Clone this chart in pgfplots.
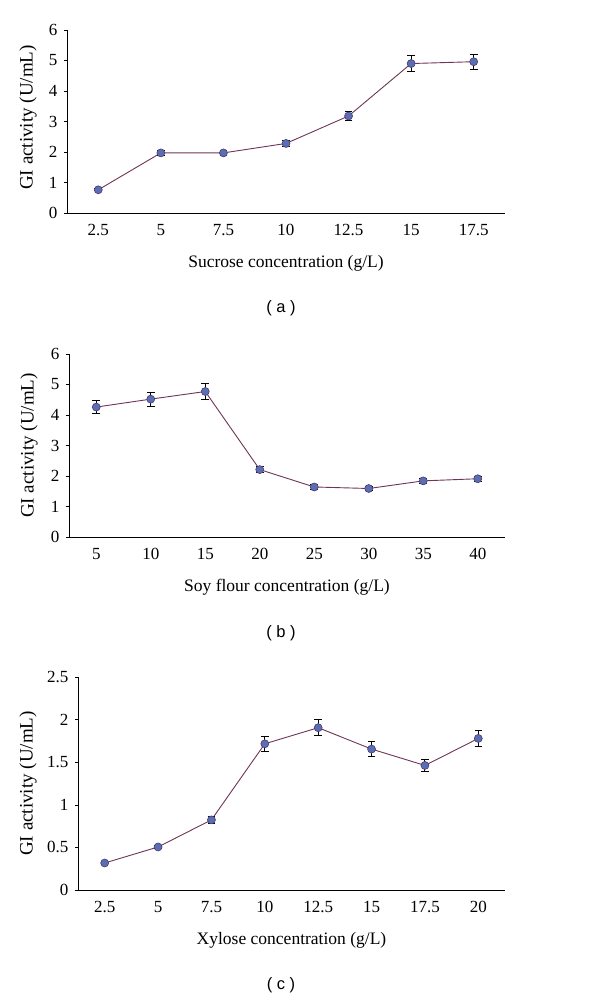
\documentclass[border=0pt]{standalone}
\usepackage{pgfplots}
\pgfplotsset{compat=1.18}
\usepackage{fontspec}
\setmainfont{Liberation Serif}
\newfontfamily\capfont{Liberation Sans}
\definecolor{linec}{HTML}{6E3556}
\definecolor{markc}{HTML}{5B6DB3}
\definecolor{markedge}{HTML}{4A3A70}
\pgfplotsset{
  panel/.style={
    scale only axis,
    axis x line*=bottom, axis y line*=left,
    xmin=-0.5,
    xtick=data,
    major x tick style={draw=none},
    ytick pos=left,
    tick align=outside,
    major tick length=3pt,
    tick style={black, line width=0.6pt},
    axis line style={black, line width=0.9pt},
    ymin=0,
    tick label style={font=\fontsize{17}{19}\selectfont},
    xlabel style={font=\fontsize{17.5}{20}\selectfont},
    ylabel style={font=\fontsize{19}{21}\selectfont},
    /pgf/number format/assume math mode=true,
    yticklabel style={/pgf/number format/fixed, /pgf/number format/precision=1},
    xticklabel style={yshift=-5pt},
    xlabel style={at={(axis description cs:0.5,0)}, anchor=center, yshift=-50pt},
    clip=false,
  },
  ser/.style={
    color=linec, line width=0.9pt,
    mark=*, mark size=4pt,
    mark options={fill=markc, draw=markedge, line width=0.6pt},
    error bars/.cd, y dir=both, y explicit,
    error bar style={black, line width=0.9pt},
    error mark options={rotate=90, mark size=3.8pt, black, line width=0.9pt},
  },
}
\begin{document}
\begin{tikzpicture}
\useasboundingbox (0pt,0pt) rectangle (600pt,1001pt);
% (a)
\begin{axis}[panel,
  at={(67pt,788pt)}, anchor=south west, width=438pt, height=183pt,
  xmax=6.5, ymax=6, ytick={0,1,2,3,4,5,6},
  xticklabels={2.5,5,7.5,10,12.5,15,17.5},
  xlabel={Sucrose concentration (g/L)},
  ylabel={GI activity (U/mL)},
  ylabel style={at={(axis description cs:0,0.5)}, anchor=center, yshift=39pt, xshift=4pt},
  yticklabel style={xshift=-3pt},
]
\addplot+[ser] coordinates {
  (0,0.76) +- (0,0.03)
  (1,1.97) +- (0,0.07)
  (2,1.97) +- (0,0.07)
  (3,2.28) +- (0,0.10)
  (4,3.18) +- (0,0.16)
  (5,4.90) +- (0,0.25)
  (6,4.96) +- (0,0.25)
};
\end{axis}
\node[font=\capfont\fontsize{16.5}{18}\selectfont] at (281pt,693pt) {( a )};
% (b)
\begin{axis}[panel,
  at={(69pt,464pt)}, anchor=south west, width=436pt, height=183pt,
  xmax=7.5, ymax=6, ytick={0,1,2,3,4,5,6},
  xticklabels={5,10,15,20,25,30,35,40},
  xlabel={Soy flour concentration (g/L)},
  ylabel={GI activity (U/mL)},
  ylabel style={at={(axis description cs:0,0.5)}, anchor=center, yshift=40pt},
  yticklabel style={xshift=-3pt},
]
\addplot+[ser] coordinates {
  (0,4.26) +- (0,0.22)
  (1,4.52) +- (0,0.23)
  (2,4.77) +- (0,0.25)
  (3,2.21) +- (0,0.11)
  (4,1.64) +- (0,0.07)
  (5,1.59) +- (0,0.06)
  (6,1.84) +- (0,0.08)
  (7,1.91) +- (0,0.08)
};
\end{axis}
\node[font=\capfont\fontsize{16.5}{18}\selectfont] at (281pt,368pt) {( b )};
% (c)
\begin{axis}[panel,
  at={(78pt,111pt)}, anchor=south west, width=427pt, height=213pt,
  xmax=7.5, ymax=2.5, ytick={0,0.5,1,1.5,2,2.5},
  xticklabels={2.5,5,7.5,10,12.5,15,17.5,20},
  xlabel={Xylose concentration (g/L)},
  ylabel={GI activity (U/mL)},
  ylabel style={at={(axis description cs:0,0.5)}, anchor=center, yshift=50pt},
  yticklabel style={xshift=-3pt},
]
\addplot+[ser] coordinates {
  (0,0.317) +- (0,0.015)
  (1,0.505) +- (0,0.02)
  (2,0.823) +- (0,0.045)
  (3,1.716) +- (0,0.086)
  (4,1.905) +- (0,0.095)
  (5,1.654) +- (0,0.086)
  (6,1.462) +- (0,0.076)
  (7,1.779) +- (0,0.09)
};
\end{axis}
\node[font=\capfont\fontsize{16.5}{18}\selectfont] at (281pt,16pt) {( c )};
\end{tikzpicture}
\end{document}
